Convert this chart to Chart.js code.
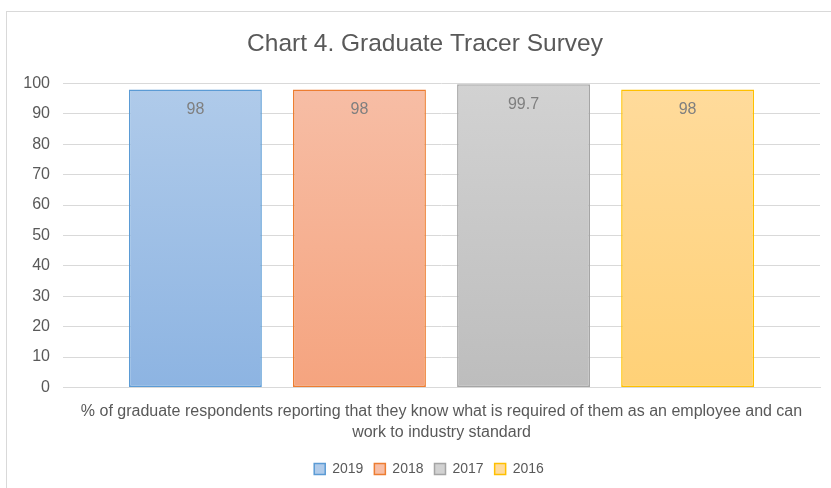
<!DOCTYPE html>
<html>
<head>
<meta charset="utf-8">
<script src="https://cdn.jsdelivr.net/npm/chart.js@4/dist/chart.umd.min.js"></script>
<style>
  html, body { margin: 0; padding: 0; background: #fff; overflow: hidden; }
  #frame { position: absolute; left: 6px; top: 11px; width: 840px; height: 500px; border: 1px solid #d9d9d9; }
  #wrap { position: absolute; left: 0; top: 0; width: 850px; height: 488px; }
</style>
</head>
<body>
<div id="frame"></div>
<div id="wrap"><canvas id="tracer-chart"></canvas></div>
<script>
const TEXT_COLOR = '#595959';
const LABEL_COLOR = '#7f7f7f';
const FONT = "'Liberation Sans', Arial, sans-serif";

const categories = [[
  '% of graduate respondents reporting that they know what is required of them as an employee and can',
  'work to industry standard',
]];
const years = ['2019', '2018', '2017', '2016'];
const values2019 = [98];
const values2018 = [98];
const values2017 = [99.7];
const values2016 = [98];
const yTicks = [0, 10, 20, 30, 40, 50, 60, 70, 80, 90, 100];

// top colour, bottom colour, border colour for each year
const barStyles = [
  ['#b0cbea', '#8db4e2', '#5b9bd5'],
  ['#f7bea6', '#f5a47f', '#ed7d31'],
  ['#d2d2d2', '#bdbdbd', '#a5a5a5'],
  ['#ffdb9c', '#ffd177', '#ffc000'],
];

function gradientFill(styleIndex) {
  return function (context) {
    const chart = context.chart;
    const area = chart.chartArea;
    if (!area) {
      return barStyles[styleIndex][0];
    }
    const gradient = chart.ctx.createLinearGradient(0, area.top, 0, area.bottom);
    gradient.addColorStop(0, barStyles[styleIndex][0]);
    gradient.addColorStop(1, barStyles[styleIndex][1]);
    return gradient;
  };
}

const seriesValues = [values2019, values2018, values2017, values2016];

const datasets = years.map((year, i) => ({
  label: year,
  data: seriesValues[i],
  backgroundColor: gradientFill(i),
  borderColor: barStyles[i][2],
  borderWidth: 1.5,
  borderSkipped: false,
  categoryPercentage: 0.867,
  barPercentage: 0.81,
}));

const barValueLabels = {
  id: 'barValueLabels',
  afterDatasetsDraw(chart) {
    const ctx = chart.ctx;
    ctx.save();
    ctx.font = '16px ' + FONT;
    ctx.fillStyle = LABEL_COLOR;
    ctx.textAlign = 'center';
    ctx.textBaseline = 'middle';
    chart.data.datasets.forEach((dataset, i) => {
      const meta = chart.getDatasetMeta(i);
      meta.data.forEach((bar, j) => {
        ctx.fillText(String(dataset.data[j]), bar.x, bar.y + 20);
      });
    });
    ctx.restore();
  },
};

// title and legend sit centred on the frame, a bit right of the canvas centre
const shiftHeaderFooter = {
  id: 'shiftHeaderFooter',
  afterLayout(chart) {
    chart.titleBlock.left += 20;
    chart.legend.left += 28;
  },
};

new Chart(document.getElementById('tracer-chart').getContext('2d'), {
  type: 'bar',
  data: {
    labels: categories,
    datasets: datasets,
  },
  options: {
    responsive: true,
    maintainAspectRatio: false,
    animation: false,
    layout: {
      padding: { left: 10, right: 30, top: 26, bottom: 2 },
    },
    plugins: {
      title: {
        display: true,
        text: 'Chart 4. Graduate Tracer Survey',
        color: TEXT_COLOR,
        font: { family: FONT, size: 24.5, weight: 'normal' },
        padding: { top: 4, bottom: 24 },
      },
      legend: {
        position: 'bottom',
        labels: {
          color: TEXT_COLOR,
          font: { family: FONT, size: 14 },
          boxWidth: 11,
          boxHeight: 11,
          padding: 11,
          generateLabels: function () {
            return years.map((year, i) => ({
              text: year,
              fillStyle: barStyles[i][0],
              strokeStyle: barStyles[i][2],
              lineWidth: 1.5,
              datasetIndex: i,
              fontColor: TEXT_COLOR,
            }));
          },
        },
      },
      tooltip: { enabled: false },
    },
    scales: {
      y: {
        min: 0,
        max: 100,
        afterBuildTicks: function (axis) {
          axis.ticks = yTicks.map((v) => ({ value: v }));
        },
        afterFit: function (axis) {
          axis.width = 53;
        },
        border: { display: false },
        grid: { color: '#d9d9d9', drawTicks: false, lineWidth: 1 },
        ticks: {
          color: TEXT_COLOR,
          font: { family: FONT, size: 16 },
          padding: 13,
        },
      },
      x: {
        afterFit: function (axis) {
          axis.height = axis.height + 2;
        },
        border: { display: true, color: '#d9d9d9' },
        grid: { display: false },
        ticks: {
          color: TEXT_COLOR,
          font: { family: FONT, size: 16, lineHeight: 1.3 },
          padding: 6,
          maxRotation: 0,
        },
      },
    },
  },
  plugins: [barValueLabels, shiftHeaderFooter],
});
</script>
</body>
</html>
